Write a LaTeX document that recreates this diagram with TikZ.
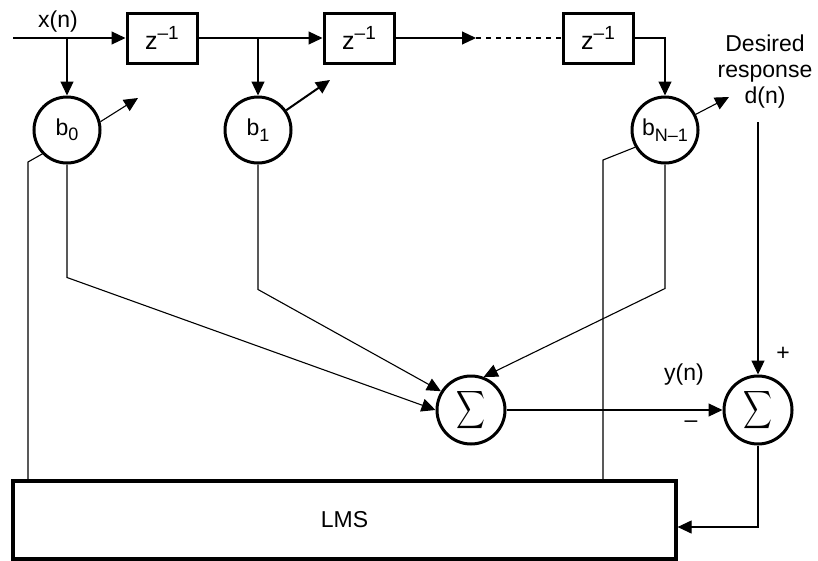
\documentclass[tikz,border=0pt]{standalone}
\usepackage{fontspec}
\setmainfont{Liberation Sans}
\usepackage{graphicx}
\usepackage{tikz}
\usetikzlibrary{arrows.meta, positioning, calc}

\newcommand{\lowsub}[1]{\raisebox{-0.45ex}{\fontsize{18}{18}\selectfont #1}}
\newcommand{\highsup}[1]{\raisebox{0.7ex}{\fontsize{19}{19}\selectfont #1}}
\newcommand{\bigsum}{\scalebox{2}[2.65]{$\displaystyle\sum$}}

\begin{document}
\begin{tikzpicture}[
			x=1pt, y=-1pt,
			every node/.style={align=center, font=\fontsize{23}{26}\selectfont},
			delay/.style={rectangle, draw, line width=3pt, minimum width=70pt, minimum height=50pt, inner sep=0pt, font=\fontsize{25}{26}\selectfont},
			weight/.style={circle, draw, line width=3pt, minimum size=66pt, inner sep=0pt},
			adder/.style={circle, draw, line width=3pt, minimum size=68pt, inner sep=0pt, font=\fontsize{10}{12}\selectfont},
			wire/.style={line width=1.1pt},
			>={Triangle[length=14pt, width=13pt]}
			]
			\useasboundingbox (0,0) rectangle (818,560);
			
			% Delay line
			\node[delay] (d1) at (162,38) {z\highsup{--1}};
			\node[delay, right=124pt of d1] (d2) {z\highsup{--1}};
			\node[delay, right=166pt of d2] (d3) {z\highsup{--1}};
			
			% Weights and adders
			\node[weight] (b0) at (67,130) {b\lowsub{0}};
			\node[weight] (b1) at (258,130) {b\lowsub{1}};
			\node[weight] (bN) at (665,130) {b\lowsub{N--1}};
			\node[adder] (s1) at (471,410) {\bigsum};
			\node[adder] (s2) at (758,410) {\bigsum};
			\node[draw, line width=3.2pt, minimum width=663pt, minimum height=78pt] (lms) at (344.5,520) {LMS};
			
			% Labels
			\node (xn) at (58,22) {x(n)};
			\node (dn) at (765,72) {Desired\\response\\d(n)};
			\node (yn) at (684,375) {y(n)};
			\node (plus) at (783,354) {+};
			\node (minus) at (691,424) {--};
			
			% Free ends
			\coordinate (in) at (13,38);
			\coordinate (gap) at (476,38);
			\coordinate (dtop) at (758,122);
			\coordinate (w0) at (138,98);
			\coordinate (w1) at (330,80);
			\coordinate (wN) at (729,97);
			\coordinate (f0) at (28,162);
			\coordinate (fN) at (603,160);
			\coordinate (lmsin) at ($(lms.east)+(0,7)$);
			
			% Arrows
			\draw[wire, ->] (in) -- (d1);
			\draw[wire, ->] (b0 |- d1) -- (b0);
			\draw[wire, ->] (d1) -- (d2);
			\draw[wire, ->] (b1 |- d1) -- (b1);
			\draw[wire, ->] (d2) -- (gap);
			\draw[wire, dash pattern=on 5pt off 5pt] (gap) -- (d3);
			\draw[wire, ->] (d3.east) -| (bN);
			
			\draw[wire, ->] (b0.south) -- ++(0,113) -- (s1.west);
			\draw[wire, ->] (b1.south) -- ++(0,125) -- (s1.148);
			\draw[wire, ->] (bN.south) -- ++(0,124) -- (s1.69);
			\draw[wire, ->] (s1) -- (s2);
			\draw[wire, ->] (dtop) -- (s2);
			\draw[wire, ->] (s2.south) |- (lmsin);
			
			% Weight update
			\draw[wire, ->] (b0.14) -- (w0);
			\draw[line width=2pt, ->] (b1.35) -- (w1);
			\draw[wire, ->] (bN.27) -- (wN);
			\draw[wire] (b0.224) -- (f0) -- (f0 |- lms.north);
			\draw[wire] (bN.210) -- (fN) -- (fN |- lms.north);
		\end{tikzpicture}
\end{document}
